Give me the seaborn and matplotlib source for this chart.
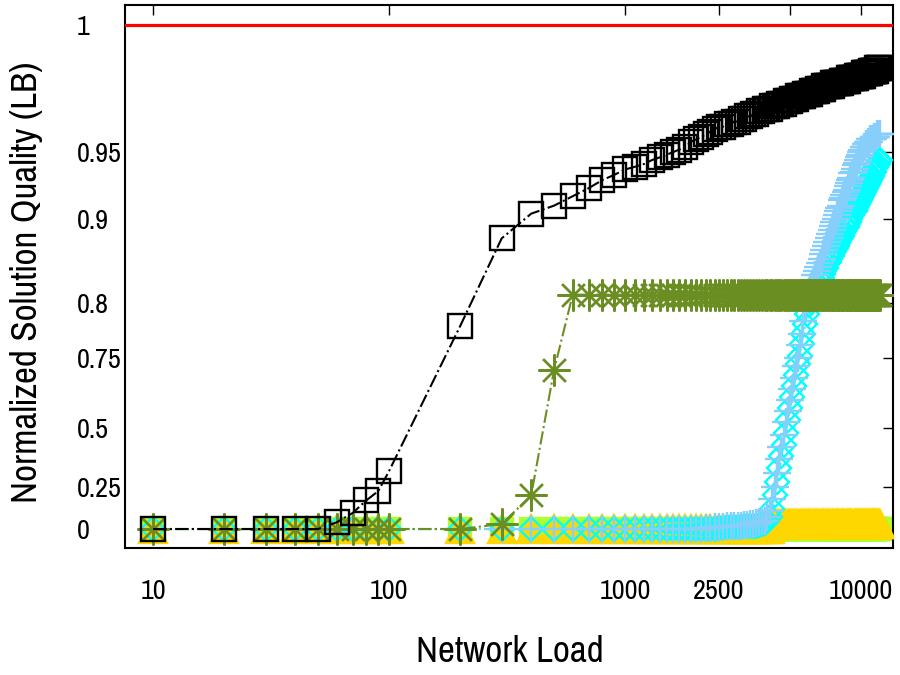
import numpy as np
import pandas as pd
import matplotlib
matplotlib.use("Agg")
import matplotlib.pyplot as plt
from matplotlib.ticker import NullLocator
import seaborn as sns

# network loads: 10..100 step 10, then 200..12000 step 100
loads = list(range(10, 101, 10)) + list(range(200, 12001, 100))

# normalized solution quality (LB) per algorithm
black_q = [0, 0, 0, 0, 0, 0.04, 0.095, 0.17, 0.226, 0.318,
           0.779, 0.877, 0.904, 0.910, 0.917, 0.923, 0.929, 0.933, 0.937,
           0.939, 0.941, 0.944, 0.946, 0.948, 0.950, 0.951, 0.952, 0.954, 0.955,
           0.956, 0.957, 0.958, 0.959, 0.960, 0.960, 0.961, 0.961, 0.962, 0.962,
           0.963, 0.963, 0.964, 0.964, 0.965, 0.965, 0.966, 0.966, 0.967, 0.967,
           0.967, 0.968, 0.968, 0.968, 0.969, 0.969, 0.969, 0.970, 0.970, 0.970,
           0.971, 0.971, 0.971, 0.972, 0.972, 0.972, 0.972, 0.973, 0.973, 0.973,
           0.973, 0.974, 0.974, 0.974, 0.974, 0.975, 0.975, 0.975, 0.975, 0.976,
           0.976, 0.976, 0.976, 0.976, 0.976, 0.977, 0.977, 0.977, 0.977, 0.977,
           0.977, 0.977, 0.978, 0.978, 0.978, 0.978, 0.978, 0.978, 0.979, 0.979,
           0.979, 0.979, 0.979, 0.979, 0.979, 0.980, 0.980, 0.980, 0.980, 0.980,
           0.980, 0.980, 0.981, 0.981, 0.981, 0.981, 0.981, 0.981, 0.981, 0.982,
           0.982, 0.982, 0.982, 0.982, 0.982, 0.982, 0.983, 0.983, 0.983, 0.983]

olive_q = [0, 0, 0, 0, 0, 0, 0, 0, 0, 0,
           0, 0.03, 0.20, 0.707, 0.81, 0.81, 0.81, 0.81, 0.81,
           0.81, 0.81, 0.81, 0.81, 0.81, 0.81, 0.81, 0.81, 0.81, 0.81,
           0.81, 0.81, 0.81, 0.81, 0.81, 0.81, 0.81, 0.81, 0.81, 0.81,
           0.81, 0.81, 0.81, 0.81, 0.81, 0.81, 0.81, 0.81, 0.81, 0.81,
           0.81, 0.81, 0.81, 0.81, 0.81, 0.81, 0.81, 0.81, 0.81, 0.81,
           0.81, 0.81, 0.81, 0.81, 0.81, 0.81, 0.81, 0.81, 0.81, 0.81,
           0.81, 0.81, 0.81, 0.81, 0.81, 0.81, 0.81, 0.81, 0.81, 0.81,
           0.81, 0.81, 0.81, 0.81, 0.81, 0.81, 0.81, 0.81, 0.81, 0.81,
           0.81, 0.81, 0.81, 0.81, 0.81, 0.81, 0.81, 0.81, 0.81, 0.81,
           0.81, 0.81, 0.81, 0.81, 0.81, 0.81, 0.81, 0.81, 0.81, 0.81,
           0.81, 0.81, 0.81, 0.81, 0.81, 0.81, 0.81, 0.81, 0.81, 0.81,
           0.81, 0.81, 0.81, 0.81, 0.81, 0.81, 0.81, 0.81, 0.81, 0.81]

cyan_q = [0, 0, 0, 0, 0, 0, 0, 0, 0, 0,
          0, 0, 0, 0, 0, 0, 0, 0, 0,
          0, 0, 0, 0, 0, 0, 0, 0, 0, 0,
          0, 0, 0, 0, 0.005, 0.005, 0.01, 0.01, 0.01, 0.01,
          0.01, 0.015, 0.015, 0.02, 0.02, 0.02, 0.025, 0.03, 0.035, 0.05,
          0.07, 0.12, 0.20, 0.27, 0.33, 0.38, 0.43, 0.48, 0.53, 0.57,
          0.61, 0.65, 0.69, 0.73, 0.752, 0.763, 0.772, 0.781, 0.790, 0.798,
          0.803, 0.807, 0.811, 0.815, 0.819, 0.823, 0.827, 0.830, 0.834, 0.838,
          0.842, 0.846, 0.849, 0.852, 0.856, 0.859, 0.862, 0.865, 0.868, 0.871,
          0.874, 0.877, 0.880, 0.883, 0.886, 0.889, 0.891, 0.894, 0.897, 0.900,
          0.902, 0.903, 0.905, 0.906, 0.908, 0.910, 0.911, 0.913, 0.914, 0.916,
          0.917, 0.919, 0.920, 0.922, 0.923, 0.925, 0.926, 0.928, 0.929, 0.931,
          0.932, 0.934, 0.935, 0.937, 0.938, 0.939, 0.940, 0.941, 0.943, 0.944]

lblue_q = [0, 0, 0, 0, 0, 0, 0, 0, 0, 0,
           0, 0, 0, 0, 0, 0, 0, 0, 0,
           0, 0, 0, 0, 0, 0, 0, 0, 0, 0,
           0, 0.005, 0.005, 0.01, 0.01, 0.01, 0.015, 0.015, 0.02, 0.02,
           0.02, 0.025, 0.025, 0.03, 0.03, 0.035, 0.04, 0.045, 0.05, 0.07,
           0.11, 0.18, 0.25, 0.31, 0.37, 0.42, 0.47, 0.52, 0.56, 0.60,
           0.64, 0.68, 0.72, 0.75, 0.762, 0.772, 0.784, 0.797, 0.804, 0.810,
           0.816, 0.822, 0.828, 0.833, 0.838, 0.843, 0.848, 0.853, 0.858, 0.863,
           0.868, 0.873, 0.878, 0.882, 0.887, 0.892, 0.897, 0.900, 0.903, 0.906,
           0.908, 0.910, 0.914, 0.916, 0.918, 0.920, 0.922, 0.925, 0.927, 0.929,
           0.931, 0.934, 0.935, 0.937, 0.940, 0.942, 0.944, 0.946, 0.948, 0.950,
           0.951, 0.951, 0.952, 0.952, 0.953, 0.953, 0.954, 0.954, 0.955, 0.955,
           0.955, 0.955, 0.956, 0.956, 0.956, 0.956, 0.957, 0.957, 0.957, 0.957]

gold_q = [0, 0, 0, 0, 0, 0, 0, 0, 0, 0,
          0, 0, 0, 0, 0, 0, 0, 0, 0,
          0, 0, 0, 0, 0, 0, 0, 0, 0, 0,
          0, 0, 0, 0, 0, 0, 0, 0, 0, 0,
          0, 0, 0, 0, 0, 0, 0, 0, 0, 0,
          0, 0.015, 0.03, 0.03, 0.03, 0.03, 0.03, 0.03, 0.03, 0.03,
          0.03, 0.03, 0.03, 0.03, 0.03, 0.03, 0.03, 0.03, 0.03, 0.03,
          0.03, 0.03, 0.03, 0.03, 0.03, 0.03, 0.03, 0.03, 0.03, 0.03,
          0.03, 0.03, 0.03, 0.03, 0.03, 0.03, 0.03, 0.03, 0.03, 0.03,
          0.03, 0.03, 0.03, 0.03, 0.03, 0.03, 0.03, 0.03, 0.03, 0.03,
          0.03, 0.03, 0.03, 0.03, 0.03, 0.03, 0.03, 0.03, 0.03, 0.03,
          0.03, 0.03, 0.03, 0.03, 0.03, 0.03, 0.03, 0.03, 0.03, 0.03,
          0.03, 0.03, 0.03, 0.03, 0.03, 0.03, 0.03, 0.03, 0.03, 0.03]

lime_q = [0] * len(loads)  # sits at zero the whole way, mostly hidden

optimum = 1.0

q_ticks = [0, 0.25, 0.5, 0.75, 0.8, 0.9, 0.95, 1]
q_labels = ["0", "0.25", "0.5", "0.75", "0.8", "0.9", "0.95", "1"]
load_ticks = [10, 100, 1000, 2500, 5000, 10000]
load_labels = ["10", "100", "1000", "2500", "", "10000"]

# the y axis of the original is stretched piecewise between its tick values
knot_v = [-2, 0, 0.25, 0.5, 0.75, 0.8, 0.9, 0.95, 1, 2]
knot_h = [-336, 0, 42, 101, 171, 226, 310, 377, 504, 3044]


def fwd(v):
    return np.interp(v, knot_v, knot_h)


def inv(h):
    return np.interp(h, knot_h, knot_v)


sns.set_theme(style="white")
plt.rcParams['font.family'] = ['Pragati Narrow', 'Archivo Narrow', 'Liberation Sans', 'DejaVu Sans']

fig, ax = plt.subplots(figsize=(9, 6.75), dpi=100)
fig.subplots_adjust(left=125/900, right=893/900, bottom=1-548/675, top=1-5/675)

series = [
    (lime_q, "#adff2f", "s", 16, True, 2),
    (gold_q, "#ffd700", "^", 20, True, 3),
    (cyan_q, "#00ffff", "D", 12, False, 4),
    (lblue_q, "#87cefa", "+", 20, False, 5),
    (olive_q, "#6b8e23", (8, 2, 0), 23, False, 6),
    (black_q, "black", "s", 17, False, 7),
]

for vals, col, mk, ms, filled, z in series:
    df = pd.DataFrame({"load": loads, "q": vals})
    sns.lineplot(data=df, x="load", y="q", ax=ax, estimator=None, legend=False,
                 color=col, linestyle="-.", linewidth=1.5, marker=mk, markersize=ms,
                 markerfacecolor=col if filled else "none", markeredgecolor=col,
                 markeredgewidth=1.7, zorder=z)

ax.axhline(optimum, color="red", linewidth=2.3, zorder=8)

ax.set_xscale("log")
ax.set_yscale("function", functions=(fwd, inv))
ax.set_xlim(7.6, 13660)
ax.set_ylim(-0.113, 1.0079)

ax.set_xticks(load_ticks)
ax.set_xticklabels(load_labels)
ax.set_yticks(q_ticks)
ax.set_yticklabels(q_labels, ha="left")
ax.xaxis.set_minor_locator(NullLocator())
ax.yaxis.set_minor_locator(NullLocator())

ax.tick_params(axis="both", direction="in", length=7, width=1, color="black",
               top=True, right=True, labelsize=22, labelcolor="black")
ax.tick_params(axis="x", pad=22)
ax.tick_params(axis="y", pad=35)

for sp in ax.spines.values():
    sp.set_color("black")
    sp.set_linewidth(1.5)

ax.set_xlabel("Network Load", fontsize=29, color="black", va="center")
ax.set_ylabel("Normalized Solution Quality (LB)", fontsize=29, color="black", va="center")
ax.xaxis.set_label_coords(0.501, -0.1915)
ax.yaxis.set_label_coords(-0.128, 0.489)

fig.savefig("out.png", dpi=100)
